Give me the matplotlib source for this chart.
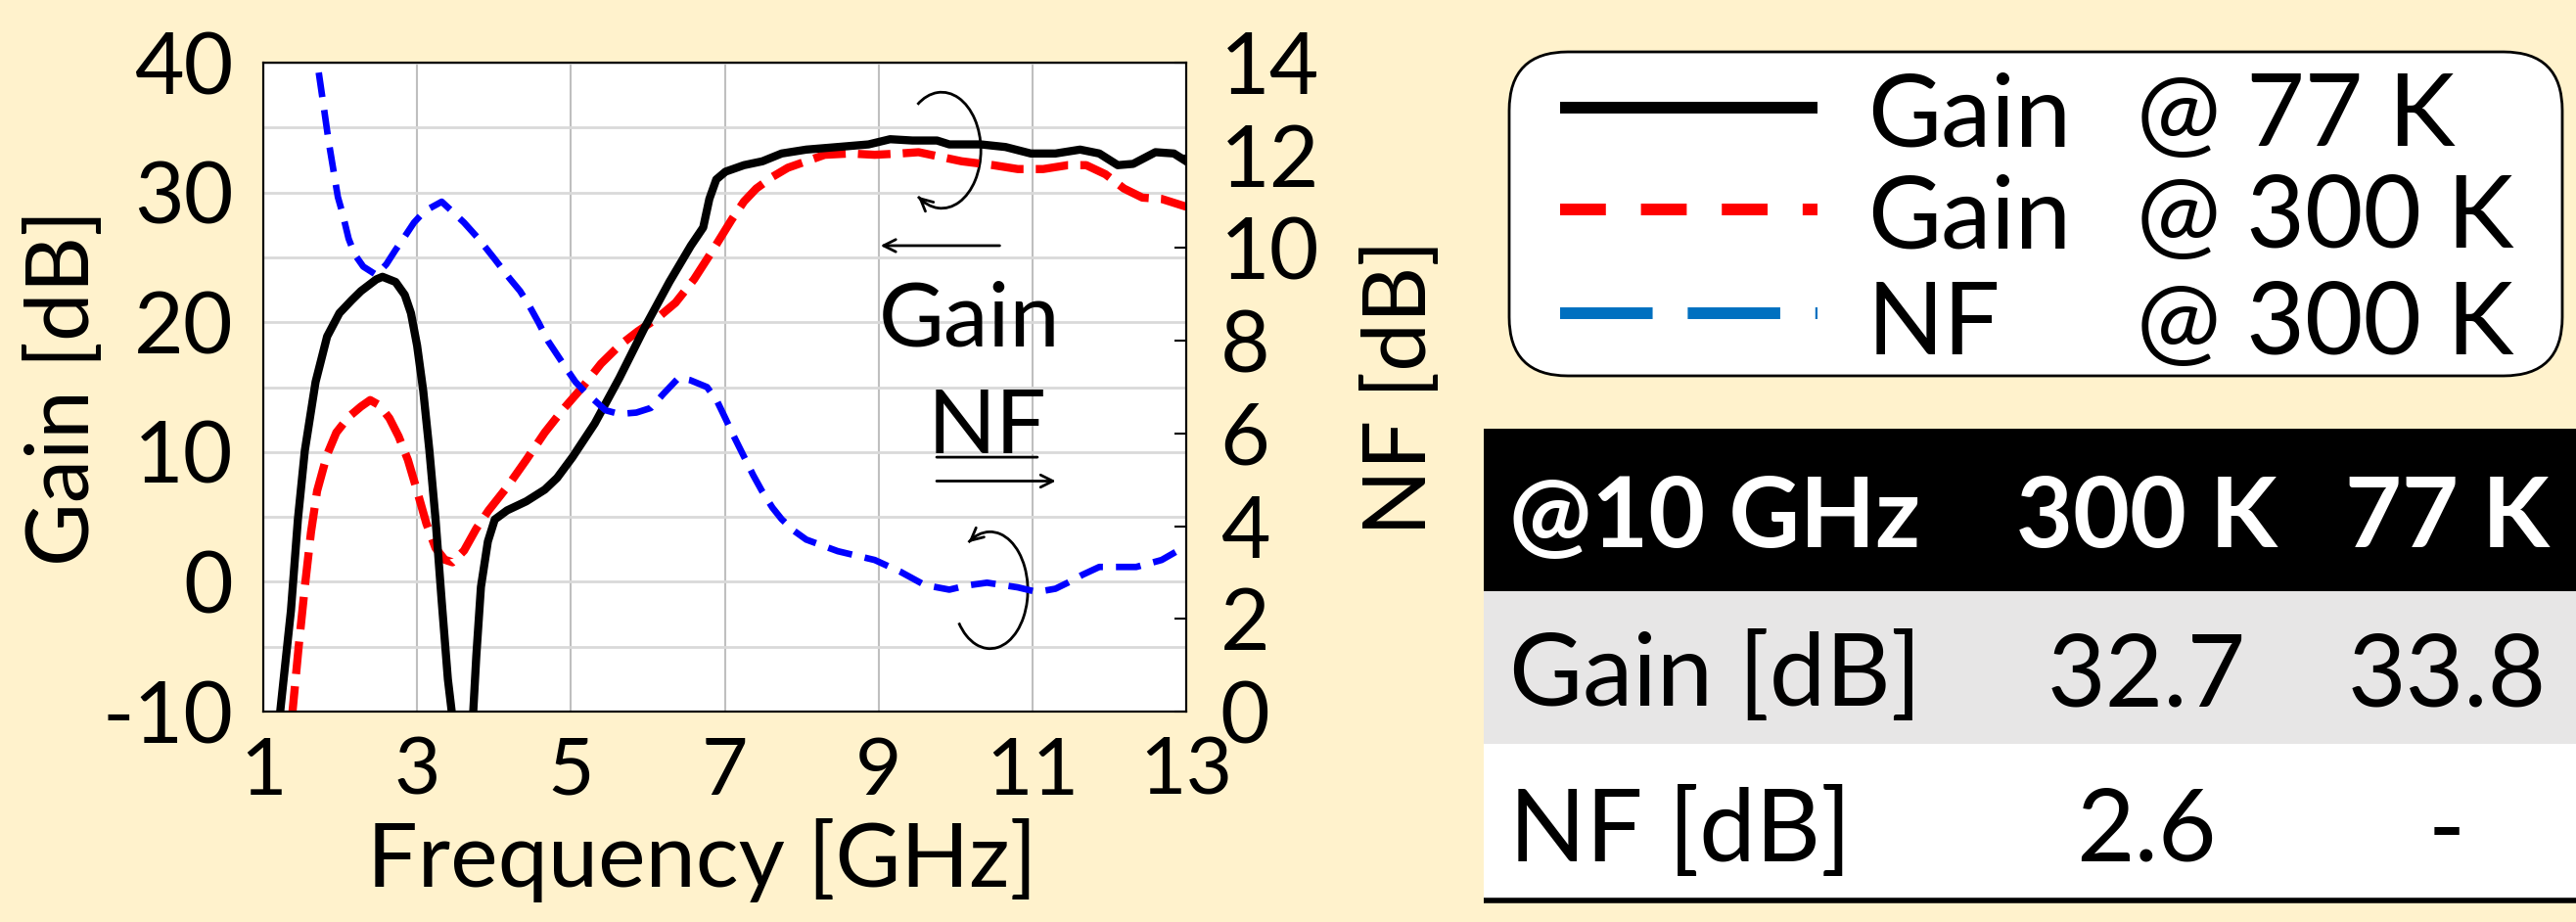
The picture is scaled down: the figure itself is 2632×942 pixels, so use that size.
import numpy as np
import matplotlib.pyplot as plt
from matplotlib.patches import Arc, FancyBboxPatch, Rectangle
from matplotlib.transforms import Affine2D

plt.rcParams['font.family'] = ['Lato', 'DejaVu Sans']
plt.rcParams['axes.unicode_minus'] = False

W, H = 2632, 942
BG = '#FFF2CC'

# Gain @ 77 K (black, left axis)
f_77 = [1.18, 1.22, 1.36, 1.45, 1.54, 1.68, 1.83, 1.99, 2.15, 2.27, 2.47, 2.55,
        2.72, 2.84, 2.92, 3.00, 3.08, 3.16, 3.24, 3.32, 3.40, 3.45, 3.50,
        3.70, 3.73, 3.77, 3.83, 3.92, 4.01, 4.17, 4.42, 4.66, 4.82, 5.02, 5.31,
        5.63, 5.96, 6.28, 6.56, 6.72, 6.80, 6.89, 7.01, 7.25, 7.49, 7.74, 8.06,
        8.47, 8.87, 9.15, 9.44, 9.76, 9.92, 10.33, 10.65, 10.98, 11.30, 11.62,
        11.87, 12.11, 12.31, 12.60, 12.84, 13.0]
g_77 = [-14, -10, -2.2, 4.8, 10.1, 15.4, 18.9, 20.7, 21.7, 22.4, 23.3, 23.5,
        23.1, 22.1, 20.7, 18.2, 14.7, 10.1, 4.8, -1.5, -7.5, -10, -14,
        -14, -10, -5.7, -0.4, 3.1, 4.8, 5.5, 6.2, 7.1, 8.0, 9.6, 12.2,
        15.7, 19.6, 23.1, 25.9, 27.3, 29.5, 31.0, 31.6, 32.1, 32.4, 33.0, 33.3,
        33.5, 33.7, 34.1, 34.0, 34.0, 33.7, 33.7, 33.5, 33.0, 33.0, 33.3,
        33.0, 32.1, 32.2, 33.1, 33.0, 32.4]

# Gain @ 300 K (red, left axis)
f_300 = [1.34, 1.38, 1.46, 1.54, 1.62, 1.70, 1.83, 1.95, 2.11, 2.27, 2.39, 2.51,
         2.64, 2.76, 2.88, 3.00, 3.12, 3.24, 3.36, 3.46, 3.61, 3.77, 3.93, 4.17,
         4.42, 4.66, 4.90, 5.15, 5.39, 5.63, 5.87, 6.12, 6.36, 6.60, 6.85, 7.09,
         7.25, 7.41, 7.62, 7.82, 8.06, 8.30, 8.63, 8.95, 9.28, 9.52, 9.76, 10.08,
         10.49, 10.81, 11.14, 11.46, 11.70, 11.95, 12.19, 12.43, 12.68, 13.0]
g_300 = [-14, -10, -5.0, -0.4, 3.8, 7.0, 9.8, 11.5, 12.7, 13.5, 14.0, 13.6,
         12.6, 11.2, 9.4, 7.0, 4.5, 2.6, 1.7, 1.5, 2.4, 4.1, 5.5, 7.3,
         9.4, 11.5, 13.3, 15.0, 16.8, 18.2, 19.3, 20.3, 21.5, 23.3, 25.6, 27.9,
         29.3, 30.3, 31.2, 31.9, 32.4, 32.9, 33.0, 32.9, 33.0, 33.1, 32.8, 32.4,
         32.1, 31.8, 31.8, 32.1, 32.1, 31.4, 30.3, 29.6, 29.5, 28.9]

# NF @ 300 K (blue, right axis)
f_nf = [1.68, 1.72, 1.79, 1.85, 1.91, 1.97, 2.03, 2.11, 2.19, 2.30, 2.47, 2.60,
        2.72, 2.84, 2.96, 3.10, 3.32, 3.45, 3.61, 3.80, 4.01, 4.20, 4.34, 4.46,
        4.58, 4.70, 4.82, 4.94, 5.06, 5.18, 5.31, 5.45, 5.63, 5.85, 6.04, 6.20,
        6.40, 6.55, 6.77, 6.90, 7.01, 7.13, 7.25, 7.37, 7.49, 7.62, 7.74, 7.90,
        8.06, 8.47, 8.95, 9.28, 9.60, 9.92, 10.15, 10.41, 10.81, 11.06, 11.30,
        11.46, 11.65, 11.87, 12.35, 12.68, 12.88]
nf_300 = [14.6, 13.8, 13.0, 12.3, 11.7, 11.1, 10.75, 10.2, 9.86, 9.6, 9.42, 9.65,
          9.96, 10.25, 10.55, 10.8, 11.0, 10.8, 10.55, 10.2, 9.76, 9.35, 9.07, 8.75,
          8.39, 8.0, 7.70, 7.4, 7.11, 6.9, 6.71, 6.5, 6.42, 6.45, 6.55, 6.85,
          7.2, 7.15, 7.0, 6.7, 6.32, 5.9, 5.5, 5.1, 4.74, 4.4, 4.15, 3.9,
          3.71, 3.46, 3.27, 3.02, 2.73, 2.63, 2.72, 2.78, 2.68, 2.58, 2.65,
          2.78, 2.95, 3.12, 3.12, 3.27, 3.46]

x_ticks = [1, 3, 5, 7, 9, 11, 13]
gain_ticks = [-10, 0, 10, 20, 30, 40]
nf_ticks = [0, 2, 4, 6, 8, 10, 12, 14]

legend_names = ['Gain', 'Gain', 'NF']
legend_temps = ['@ 77 K', '@ 300 K', '@ 300 K']

table_header = ['@10 GHz', '300 K', '77 K']
table_rows = [['Gain [dB]', '32.7', '33.8'],
              ['NF [dB]', '2.6', '-']]

fig = plt.figure(figsize=(W / 100, H / 100), dpi=100, facecolor=BG)

# main chart
ax = fig.add_axes([269 / W, 1 - 727 / H, 943 / W, 663 / H])
ax.set_facecolor('white')
ax.plot(f_77, g_77, color='black', lw=6, solid_joinstyle='round', zorder=4)
ax.plot(f_300, g_300, color='#FF0000', lw=6, dashes=(4, 1.5), zorder=3)
ax.set_xlim(1, 13)
ax.set_ylim(-10, 40)
ax.set_xticks(x_ticks)
ax.set_yticks(gain_ticks)
ax.set_yticks(np.arange(-5, 40, 10), minor=True)
ax.grid(True, which='major', axis='x', color='#BFBFBF', lw=1.5)
ax.grid(True, which='both', axis='y', color='#D9D9D9', lw=2)
ax.set_axisbelow(True)
ax.tick_params(axis='both', which='both', length=0, labelsize=63)
ax.tick_params(axis='y', pad=22)
ax.tick_params(axis='x', pad=18, labelsize=59)
ax.set_xlabel('Frequency [GHz]', fontsize=66)
ax.xaxis.set_label_coords(0.475, -0.165)
ax.set_ylabel('Gain [dB]', fontsize=64)
ax.yaxis.set_label_coords(-0.172, 0.5)
for s in ax.spines.values():
    s.set_color('black')
    s.set_linewidth(1.5)

ax2 = ax.twinx()
ax2.plot(f_nf, nf_300, color='#0000FF', lw=4.8, dashes=(3.8, 2.0), zorder=3)
ax2.set_ylim(0, 14)
ax2.set_yticks(nf_ticks)
ax2.tick_params(axis='y', direction='in', length=9, width=1.5, labelsize=63, pad=25)
ax2.set_ylabel('NF [dB]', fontsize=64)
ax2.yaxis.set_label_coords(1.19, 0.5)
for s in ax2.spines.values():
    s.set_linewidth(1.5)

# annotations: arrows and labels
ax.annotate('', xy=(8.99, 25.9), xytext=(10.61, 25.9),
            arrowprops=dict(arrowstyle='->,head_length=0.9,head_width=0.45', lw=2, color='black'))
ax.annotate('', xy=(11.34, 7.76), xytext=(9.72, 7.76),
            arrowprops=dict(arrowstyle='->,head_length=0.9,head_width=0.45', lw=2, color='black'))
ax.text(10.18, 18.2, 'Gain', fontsize=66, ha='center', va='baseline')
ax.text(10.41, 9.9, 'NF', fontsize=66, ha='center', va='baseline')
ax.annotate('', xy=(9.72, 9.6), xytext=(11.1, 9.6), arrowprops=dict(arrowstyle='-', lw=2))

def curl(cx, cy, a, b, t1, t2, head_at_end_ccw):
    tr = Affine2D().scale(a, b).translate(cx, cy) + ax.transData
    ax.add_patch(Arc((0, 0), 2, 2, theta1=t1, theta2=t2, transform=tr, lw=2, color='black'))
    if head_at_end_ccw:
        te, tp = np.radians(t2), np.radians(t2 - 12)
    else:
        te, tp = np.radians(t1), np.radians(t1 + 12)
    ax.annotate('', xy=(cx + a * np.cos(te), cy + b * np.sin(te)),
                xytext=(cx + a * np.cos(tp), cy + b * np.sin(tp)),
                arrowprops=dict(arrowstyle='->,head_length=0.9,head_width=0.45', lw=2,
                                color='black', shrinkA=0, shrinkB=0))

curl(9.82, 33.25, 0.51, 4.47, -127, 128, False)
curl(10.45, -0.65, 0.49, 4.5, -146, 125, True)

# overlay in pixel coords for legend and table
ov = fig.add_axes([0, 0, 1, 1])
ov.set_xlim(0, W)
ov.set_ylim(H, 0)
ov.axis('off')

ov.add_patch(FancyBboxPatch((1542, 53), 1076, 331,
                            boxstyle='round,pad=0,rounding_size=60',
                            fc='white', ec='black', lw=2))
leg_y = [110, 214, 320]
ov.plot([1594, 1857], [leg_y[0], leg_y[0]], color='black', lw=8.6, solid_capstyle='butt')
ov.plot([1594, 1857], [leg_y[1], leg_y[1]], color='#FF0000', lw=8.6,
        dashes=(47 / 12, 36 / 12), solid_capstyle='butt', dash_capstyle='butt')
ov.plot([1594, 1857], [leg_y[2], leg_y[2]], color='#0070C0', lw=8.6,
        dashes=(95 / 12, 36 / 12), dash_capstyle='butt')
for yb, nm, tp in zip([149, 253, 362], legend_names, legend_temps):
    ov.text(1908, yb, nm, fontsize=74, ha='left', va='baseline')
    ov.text(2183, yb, tp, fontsize=74, ha='left', va='baseline')

# table
ov.add_patch(Rectangle((1516, 438), W - 1516, 166, fc='black', ec='none'))
ov.add_patch(Rectangle((1516, 604), W - 1516, 156, fc='#E7E6E6', ec='none'))
ov.add_patch(Rectangle((1516, 760), W - 1516, 159, fc='white', ec='none'))
ov.plot([1516, W], [920, 920], color='black', lw=4, solid_capstyle='butt')
col_x = [1542, 2193, 2500]
ov.text(col_x[0], 559, table_header[0], fontsize=72, fontweight='bold', color='white',
        ha='left', va='baseline')
for cx, lab in zip(col_x[1:], table_header[1:]):
    ov.text(cx, 559, lab, fontsize=72, fontweight='bold', color='white', ha='center', va='baseline')
for yb, row in zip([721, 880], table_rows):
    ov.text(col_x[0], yb, row[0], fontsize=74, ha='left', va='baseline')
    for cx, val in zip(col_x[1:], row[1:]):
        ov.text(cx, yb, val, fontsize=74, ha='center', va='baseline')

fig.savefig('out.png', dpi=100, facecolor=BG)
